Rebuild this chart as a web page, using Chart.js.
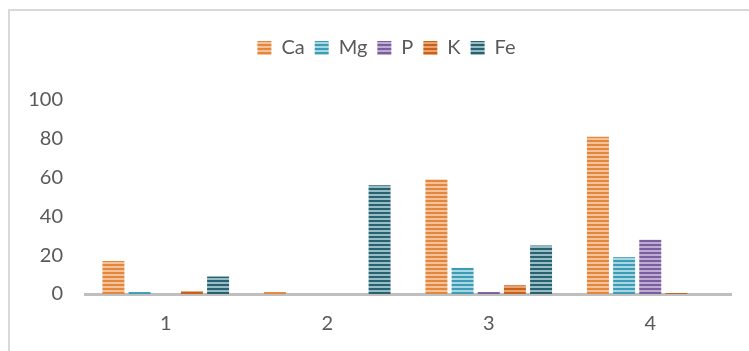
<!DOCTYPE html>
<html>
<head>
<meta charset="utf-8">
<script src="https://cdn.jsdelivr.net/npm/chart.js@4"></script>
<style>
  body { margin: 0; background: #fff; }
  #wrap { position: relative; width: 749px; height: 351px; overflow: hidden; }
  #frame { position: absolute; left: 8px; top: 9px; width: 800px; height: 400px;
           border-left: 2px solid #D9D9D9; border-top: 2px solid #D9D9D9; }
  canvas { position: absolute; left: 0; top: 0; }
</style>
</head>
<body>
<div id="wrap">
  <div id="frame"></div>
  <canvas id="chart" width="749" height="351"></canvas>
</div>
<script>
const categories = ['1', '2', '3', '4'];
const seriesNames = ['Ca', 'Mg', 'P', 'K', 'Fe'];
const ca = [17, 1, 59, 81];
const mg = [1, 0, 13.5, 19];
const p = [0, 0, 1, 28];
const k = [1.5, 0, 4.5, 0.5];
const fe = [9, 56, 25, 0];
const yTicks = [0, 20, 40, 60, 80, 100];

// striped fill like the original
function stripes(dark, light) {
    const c = document.createElement('canvas');
    c.width = 4; c.height = 4;
    const g = c.getContext('2d');
    g.fillStyle = light;
    g.fillRect(0, 0, 4, 4);
    g.fillStyle = dark;
    g.fillRect(0, 0, 4, 2);
    return g.createPattern(c, 'repeat');
}

const fills = [
    stripes('#E3873C', '#F4C29A'),
    stripes('#3F9CB6', '#A8D7E4'),
    stripes('#7A5E9D', '#BEABD3'),
    stripes('#C8611B', '#EBA26C'),
    stripes('#28616F', '#97BCC5')
];
const values = [ca, mg, p, k, fe];

// taller legend box, and legend nudged right like the original
const legendTweak = {
    id: 'legendTweak',
    beforeInit(chart) {
        const lg = chart.legend;
        const fit = lg.fit;
        lg.fit = function () {
            fit.bind(lg)();
            this.height = 72;
        };
        const draw = lg.draw;
        lg.draw = function () {
            this.ctx.save();
            this.ctx.translate(21, 0);
            draw.apply(lg, arguments);
            this.ctx.restore();
        };
    }
};

const ctx = document.getElementById('chart');

new Chart(ctx, {
    type: 'bar',
    data: {
        labels: categories,
        datasets: seriesNames.map((name, i) => ({
            label: name,
            data: values[i],
            backgroundColor: fills[i],
            borderWidth: 0,
            categoryPercentage: 0.81,
            barPercentage: 0.84
        }))
    },
    options: {
        responsive: false,
        animation: false,
        layout: { padding: { top: 28, left: 0, right: 18, bottom: 16 } },
        plugins: {
            legend: {
                position: 'top',
                labels: {
                    boxWidth: 14,
                    boxHeight: 14,
                    padding: 10,
                    color: '#595959',
                    font: { family: 'Lato', size: 20 }
                }
            },
            tooltip: { enabled: false }
        },
        scales: {
            x: {
                afterFit(scale) { scale.height = 41; },
                grid: { display: false, drawTicks: false },
                border: { color: '#BFBFBF', width: 3 },
                ticks: {
                    padding: 18,
                    color: '#595959',
                    font: { family: 'Lato', size: 20 }
                }
            },
            y: {
                min: 0,
                max: 100,
                afterFit(scale) { scale.width = 85; },
                afterBuildTicks(scale) { scale.ticks = yTicks.map(v => ({ value: v })); },
                grid: { display: false, drawTicks: false },
                border: { display: false },
                ticks: {
                    padding: 22,
                    color: '#595959',
                    font: { family: 'Lato', size: 20 }
                }
            }
        }
    },
    plugins: [legendTweak]
});
</script>
</body>
</html>
